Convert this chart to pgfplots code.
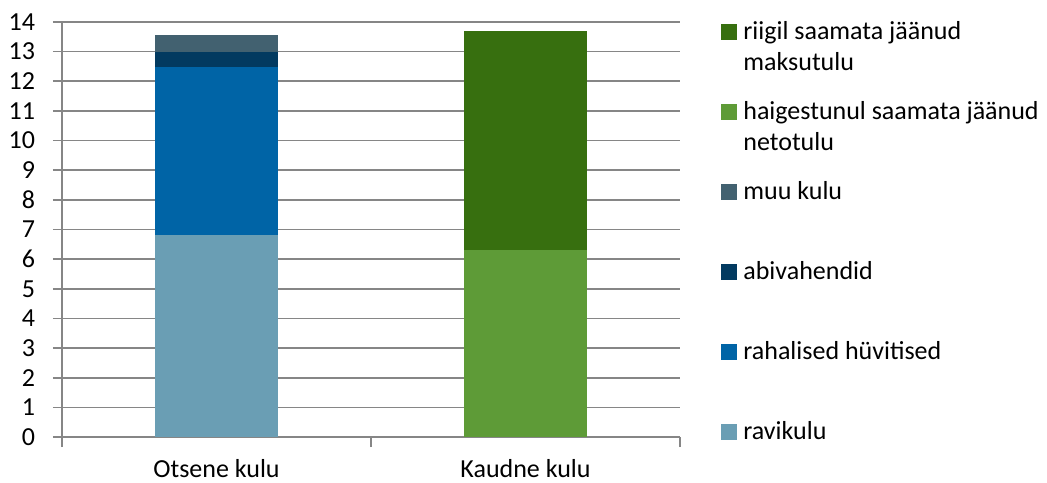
\documentclass[border=0pt]{standalone}
\usepackage{fontspec}
\setmainfont{Carlito}
\usepackage{pgfplots}
\pgfplotsset{compat=1.18}
\definecolor{gridgray}{HTML}{868686}
\definecolor{cRavi}{HTML}{6A9EB4}
\definecolor{cRaha}{HTML}{0064A6}
\definecolor{cAbi}{HTML}{023A60}
\definecolor{cMuu}{HTML}{426170}
\definecolor{cHaig}{HTML}{5E9B37}
\definecolor{cRiik}{HTML}{376F0F}
\begin{document}
\fontsize{13}{15.6}\selectfont
\begin{tikzpicture}
\begin{axis}[
  scale only axis, width=309pt, height=207.5pt,
  at={(0,0)}, anchor=south west,
  xmin=-0.5, xmax=1.5, ymin=0, ymax=14,
  ybar stacked, bar width=61.5pt,
  xtick={0,1}, xticklabels={Otsene kulu, Kaudne kulu},
  minor xtick={-0.5,0.5,1.5},
  ytick={0,1,...,14},
  axis lines=left,
  axis line style={-, draw=gridgray, line width=0.8pt},
  tick align=outside,
  major tick length=4.5pt, minor tick length=5pt,
  tick style={gridgray, line width=0.8pt},
  major x tick style={draw=none},
  ymajorgrids, grid style={gridgray, line width=0.8pt},
  /pgf/number format/assume math mode=true,
  yticklabel style={anchor=east, inner sep=0pt, xshift=-8.75pt},
  xticklabel style={anchor=base, inner sep=0pt, yshift=-15.5pt},
  reverse legend,
  legend cell align=left,
  legend image code/.code={\draw[#1,draw=none] (0pt,0pt) rectangle (8pt,8pt);},
  legend style={draw=none, fill=none, inner sep=0pt, at={(1.0663,1.0065)}, anchor=north west,
    nodes={inner sep=0pt, text height=10pt, text depth=4pt, anchor=base west},
    row sep=26pt, column sep=3pt},
]
\addplot[fill=cRavi, draw=none] coordinates {(0,6.80) (1,0)};
\addlegendentry{ravikulu}
\addplot[fill=cRaha, draw=none] coordinates {(0,5.68) (1,0)};
\addlegendentry{rahalised hüvitised}
\addplot[fill=cAbi, draw=none] coordinates {(0,0.51) (1,0)};
\addlegendentry{abivahendid}
\addplot[fill=cMuu, draw=none] coordinates {(0,0.57) (1,0)};
\addlegendentry{muu kulu}
\addplot[fill=cHaig, draw=none] coordinates {(0,0) (1,6.32)};
\addlegendentry{\vtop{\hbox{haigestunul saamata jäänud}\hbox{netotulu}}}
\addplot[fill=cRiik, draw=none] coordinates {(0,0) (1,7.38)};
\addlegendentry{\vtop{\hbox{riigil saamata jäänud}\hbox{maksutulu}}}
\end{axis}
\pgfresetboundingbox
\path (-31pt,-22.5pt) rectangle (492.5pt,218.5pt);
\end{tikzpicture}
\end{document}
